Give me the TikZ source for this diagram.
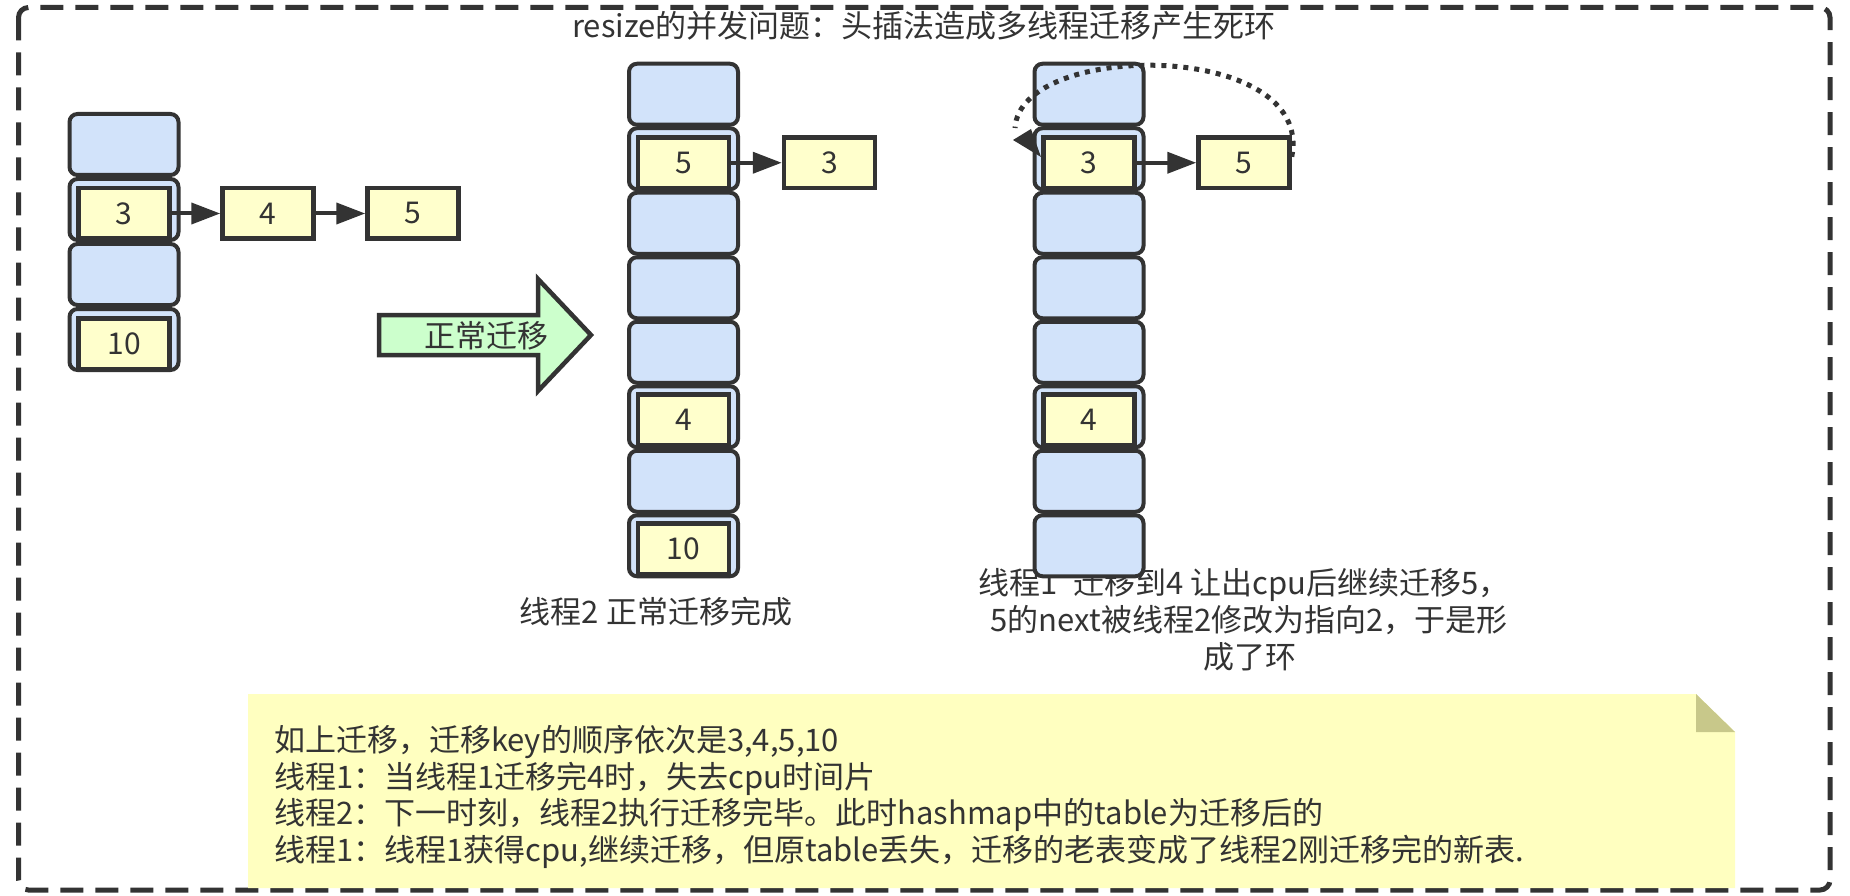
\documentclass[tikz,border=0pt]{standalone}
\usepackage{fontspec}
\setmainfont{Noto Sans CJK SC}
\usetikzlibrary{arrows.meta}
\definecolor{ink}{HTML}{333333}
\definecolor{cellblue}{HTML}{D2E3FA}
\definecolor{keyyellow}{HTML}{FFFFCC}
\definecolor{movegreen}{HTML}{CCFFCC}
\definecolor{notefill}{HTML}{FFFFC0}
\definecolor{notefold}{HTML}{C8C88A}
\newcommand\txtfont{\fontsize{31}{37}\selectfont}
\newcommand\keyfont{\fontsize{30}{36}\selectfont}
\begin{document}
\begin{tikzpicture}[x=1pt,y=-1pt,
  cell/.style={draw=ink, fill=cellblue, line width=4pt, rounded corners=8pt, minimum width=109pt, minimum height=61pt, inner sep=0pt},
  keybox/.style={draw=ink, fill=keyyellow, line width=4.5pt, minimum width=91pt, minimum height=50.5pt, inner sep=0pt, text=ink, font=\keyfont},
  conn/.style={draw=ink, line width=4pt, -{Triangle[length=29pt,width=21pt]}},
  lbl/.style={text=ink, font=\txtfont, inner sep=0pt},
  frame/.style={draw=ink, line width=5pt, dash pattern=on 23pt off 12pt, rounded corners=10pt},
  loopline/.style={draw=ink, line width=5pt, dash pattern=on 5pt off 6pt},
  movearrow/.style={draw=ink, fill=movegreen, line width=4.5pt, line join=miter}
]
\useasboundingbox (0,0) rectangle (1850,896);

% outer dashed frame
\draw[frame] (18.5,7.5) rectangle (1830,890);

% title
\node[lbl, anchor=base] (title) at (924,37.5) {resize的并发问题：头插法造成多线程迁移产生死环};

% captions (drawn under the columns)
\node[lbl, anchor=base] (capA) at (656,623.5) {线程2 正常迁移完成};
\node[lbl, anchor=base] (capB1) at (1244,594.5) {线程1\hspace{0.5em}迁移到4 让出cpu后继续迁移5，};
\node[lbl, anchor=base] (capB2) at (1249,631.5) {5的next被线程2修改为指向2，于是形};
\node[lbl, anchor=base] (capB3) at (1250,668.5) {成了环};

% left table
\foreach \i in {1,...,4} \node[cell] (L\i) at (124,{144.5+(\i-1)*65}) {};
\node[keybox] (L3k) at ([yshift=-4pt]L2.center) {3};
\node[keybox] (L10k) at ([yshift=-4pt]L4.center) {10};
\node[keybox] (n4) at (268,213.5) {4};
\node[keybox] (n5) at (413,213.5) {5};
\draw[conn] (L3k) -- (n4);
\draw[conn] (n4) -- (n5);

% green migration arrow
\draw[movearrow] (379,315) -- (538,315) -- (538,279) -- (591,335) -- (538,391) -- (538,355) -- (379,355) -- cycle;
\node[lbl, anchor=base] (mv) at (486,347.5) {正常迁移};

% middle table (thread 2 finished)
\foreach \i in {1,...,8} \node[cell] (M\i) at (683.5,{94.25+(\i-1)*64.5}) {};
\node[keybox] (M5k) at ([yshift=-4pt]M2.center) {5};
\node[keybox] (M4k) at ([yshift=-3pt]M6.center) {4};
\node[keybox] (M10k) at ([yshift=-3pt]M8.center) {10};
\node[keybox] (n3m) at (829.5,162.75) {3};
\draw[conn] (M5k) -- (n3m);

% right table (thread 1, loop)
\foreach \i in {1,...,8} \node[cell] (R\i) at (1089,{94.25+(\i-1)*64.5}) {};
\node[keybox] (R3k) at ([yshift=-4pt]R2.center) {3};
\node[keybox] (R4k) at ([yshift=-3pt]R6.center) {4};
\node[keybox] (n5r) at (1244,162.75) {5};
\draw[conn] (R3k) -- (n5r);
\coordinate (loopend) at (1015,128);
\draw[loopline] ([yshift=6pt]n5r.east) .. controls (1315,40) and (1020,40) .. (loopend);
\fill[ink] (1013,140) -- (1031,129) -- (1041,157) -- cycle;

% note
\fill[notefill] (248,694) -- (1696,694) -- (1735,732) -- (1735,888) -- (248,888) -- cycle;
\fill[notefold] (1696,694) -- (1696,732) -- (1735,732) -- cycle;
\node[lbl, anchor=base west] (t1) at (274,751.5) {如上迁移，迁移key的顺序依次是3,4,5,10};
\node[lbl, anchor=base west] (t2) at (274,788.5) {线程1：当线程1迁移完4时，失去cpu时间片};
\node[lbl, anchor=base west] (t3) at (274,824.5) {线程2：下一时刻，线程2执行迁移完毕。此时hashmap中的table为迁移后的};
\node[lbl, anchor=base west] (t4) at (274,861.5) {线程1：线程1获得cpu,继续迁移，但原table丢失，迁移的老表变成了线程2刚迁移完的新表.};
\end{tikzpicture}
\end{document}
